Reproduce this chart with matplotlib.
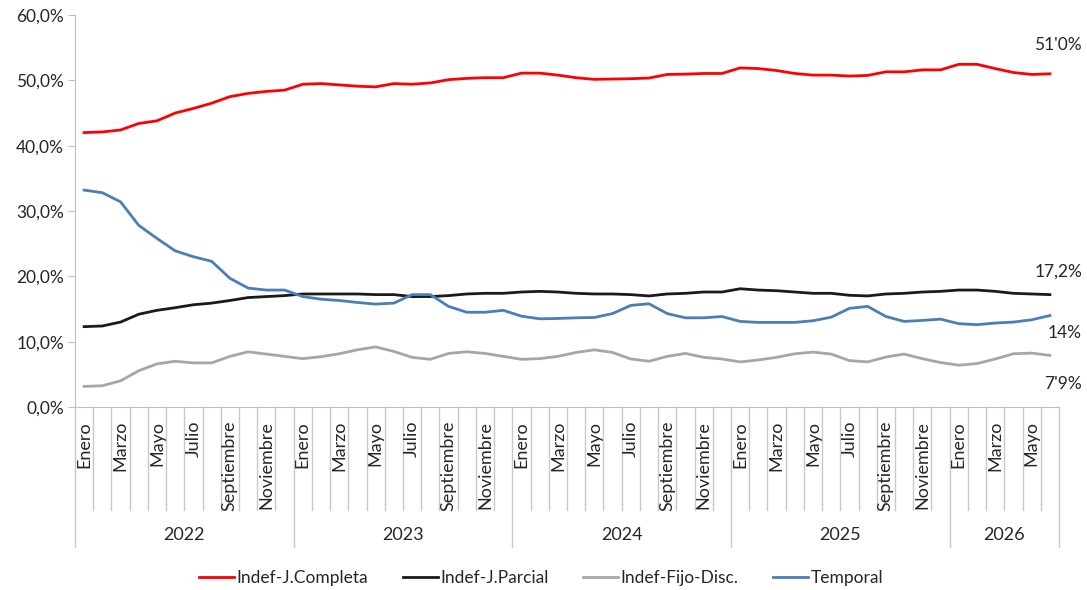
import numpy as np
import matplotlib
matplotlib.use('Agg')
import matplotlib.pyplot as plt
from matplotlib.ticker import FuncFormatter

plt.rcParams['font.family'] = ['Lato', 'DejaVu Sans']

# Data (% of contracts), monthly Jan 2022 - Jun 2026
years = ['2022', '2023', '2024', '2025', '2026']
months_per_year = [12, 12, 12, 12, 6]
month_names = ['Enero', 'Febrero', 'Marzo', 'Abril', 'Mayo', 'Junio', 'Julio',
               'Agosto', 'Septiembre', 'Octubre', 'Noviembre', 'Diciembre']
shown_months = ['Enero', 'Marzo', 'Mayo', 'Julio', 'Septiembre', 'Noviembre']

completa = [42.0, 42.1, 42.4, 43.4, 43.8, 45.0, 45.7, 46.5, 47.5, 48.0, 48.3, 48.5,
            49.4, 49.5, 49.3, 49.1, 49.0, 49.5, 49.4, 49.6, 50.1, 50.3, 50.4, 50.4,
            51.1, 51.1, 50.8, 50.4, 50.15, 50.2, 50.25, 50.35, 50.9, 50.95, 51.05, 51.05,
            51.9, 51.8, 51.5, 51.05, 50.8, 50.8, 50.65, 50.75, 51.3, 51.3, 51.6, 51.6,
            52.45, 52.45, 51.8, 51.2, 50.9, 51.0]
parcial = [12.3, 12.4, 13.0, 14.2, 14.8, 15.2, 15.65, 15.9, 16.3, 16.75, 16.9, 17.05,
           17.3, 17.3, 17.3, 17.3, 17.2, 17.2, 16.9, 16.9, 17.05, 17.3, 17.4, 17.4,
           17.6, 17.7, 17.6, 17.4, 17.3, 17.3, 17.2, 17.0, 17.3, 17.4, 17.6, 17.6,
           18.1, 17.9, 17.8, 17.6, 17.4, 17.4, 17.1, 17.0, 17.3, 17.4, 17.6, 17.7,
           17.9, 17.9, 17.7, 17.4, 17.3, 17.2]
fijo_disc = [3.15, 3.25, 4.0, 5.55, 6.6, 7.0, 6.75, 6.75, 7.75, 8.45, 8.1, 7.75,
             7.4, 7.7, 8.15, 8.75, 9.2, 8.5, 7.6, 7.3, 8.2, 8.45, 8.2, 7.75,
             7.3, 7.4, 7.75, 8.35, 8.75, 8.35, 7.35, 7.0, 7.75, 8.2, 7.6, 7.35,
             6.9, 7.2, 7.6, 8.15, 8.4, 8.1, 7.1, 6.9, 7.65, 8.1, 7.4, 6.8,
             6.4, 6.65, 7.35, 8.15, 8.25, 7.9]
temporal = [33.2, 32.8, 31.4, 27.8, 25.8, 23.9, 23.0, 22.3, 19.7, 18.2, 17.9, 17.9,
            16.9, 16.5, 16.3, 16.0, 15.75, 15.9, 17.2, 17.2, 15.4, 14.5, 14.5, 14.8,
            13.9, 13.5, 13.55, 13.65, 13.7, 14.3, 15.55, 15.8, 14.3, 13.65, 13.65, 13.85,
            13.1, 12.95, 12.95, 12.95, 13.2, 13.75, 15.1, 15.4, 13.85, 13.1, 13.25, 13.45,
            12.75, 12.6, 12.85, 13.0, 13.35, 14.0]

series_names = ['Indef-J.Completa', 'Indef-J.Parcial', 'Indef-Fijo-Disc.', 'Temporal']
end_labels = ["51'0%", '17,2%', '14%', "7'9%"]

labels = []
for n in months_per_year:
    labels += month_names[:n]
x = np.arange(len(labels))

fig = plt.figure(figsize=(10.87, 5.90), dpi=100)
ax = fig.add_axes([75 / 1087, 1 - 407 / 590, 984 / 1087, 392 / 590])

colors = ['#FF0000', '#1A1A1A', '#A6A6A6', '#4A7EBB']
for vals, name, col in zip([completa, parcial, fijo_disc, temporal], series_names, colors):
    ax.plot(x, vals, color=col, lw=2.0, label=name, solid_joinstyle='round')

ax.set_xlim(-0.5, len(x) - 0.5)
ax.set_ylim(0, 60)
ax.set_yticks(np.arange(0, 61, 10))
ax.yaxis.set_major_formatter(FuncFormatter(lambda v, p: f'{v:.1f}%'.replace('.', ',')))
ax.tick_params(axis='y', length=5, color='#BFBFBF', labelsize=12.5, labelcolor='#262626', pad=3)
ax.set_xticks([])
for s in ['top', 'right']:
    ax.spines[s].set_visible(False)
ax.spines['left'].set_color('#BFBFBF')
ax.spines['bottom'].set_color('#BFBFBF')

# category axis (months + years)
tr = ax.get_xaxis_transform()
grid_col = '#C8C8C8'
year_bounds = np.concatenate([[0], np.cumsum(months_per_year)]) - 0.5
for b in np.arange(-0.5, len(x), 1.0):
    if np.any(np.isclose(b, year_bounds)):
        continue
    ax.plot([b, b], [0, -0.263], transform=tr, color=grid_col, lw=1, clip_on=False)
for b in year_bounds:
    ax.plot([b, b], [0, -0.357], transform=tr, color=grid_col, lw=1, clip_on=False)

for i, lab in enumerate(labels):
    if lab in shown_months:
        ax.annotate(lab, xy=(i, 0), xycoords=tr, xytext=(0, -10), textcoords='offset points',
                    rotation=90, ha='center', va='top', fontsize=13, color='#262626')

for k, yr in enumerate(years):
    mid = (year_bounds[k] + year_bounds[k + 1]) / 2
    ax.text(mid, -0.327, yr, transform=tr, ha='center', va='center', fontsize=13, color='#262626')

# end-of-series labels
for lab, ypix in zip(end_labels, [45, 272, 333, 384]):
    fig.text(1082 / 1087, 1 - ypix / 590, lab, ha='right', va='center', fontsize=12.5, color='#262626')

fig.legend(loc='center', bbox_to_anchor=(0.498, 1 - 578 / 590), ncol=4, frameon=False,
           fontsize=12.5, handlelength=2.0, handletextpad=0.15, columnspacing=2.0,
           labelcolor='#262626')

fig.savefig('out.png', dpi=100)
